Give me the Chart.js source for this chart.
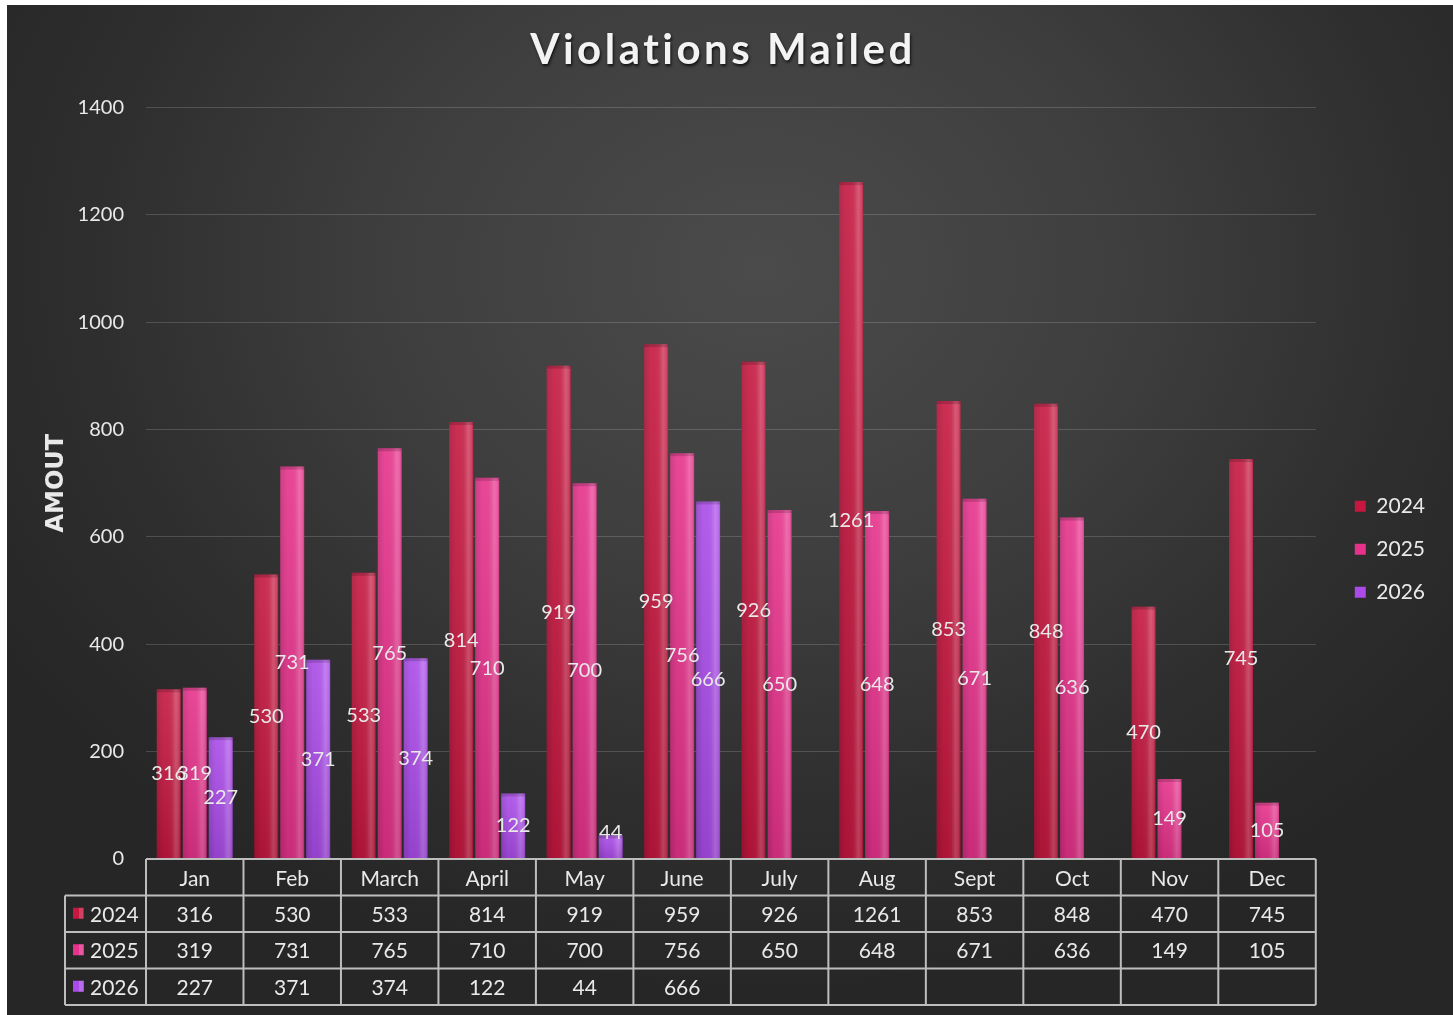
<!DOCTYPE html>
<html>
<head>
<meta charset="utf-8">
<title>Violations Mailed</title>
<script src="https://cdn.jsdelivr.net/npm/chart.js@4.4.1/dist/chart.umd.min.js"></script>
<style>
  html, body { margin: 0; padding: 0; background: #fff; }
  #wrap {
    position: absolute; left: 7px; top: 5px; width: 1446px; height: 1010px;
    background: radial-gradient(ellipse 62% 72% at 52% 26%, #4b4b4b 0%, #3e3e3e 42%, #2e2e2e 75%, #262626 100%);
  }
  canvas { display: block; }
</style>
</head>
<body>
<div id="wrap"><canvas id="chart" width="1446" height="1010"></canvas></div>
<script>
  // Données du graphique
  const months = ["Jan", "Feb", "March", "April", "May", "June", "July", "Aug", "Sept", "Oct", "Nov", "Dec"];
  const years = ["2024", "2025", "2026"];
  const values2024 = [316, 530, 533, 814, 919, 959, 926, 1261, 853, 848, 470, 745];
  const values2025 = [319, 731, 765, 710, 700, 756, 650, 648, 671, 636, 149, 105];
  const values2026 = [227, 371, 374, 122, 44, 666, null, null, null, null, null, null];
  const yTicks = [0, 200, 400, 600, 800, 1000, 1200, 1400];

  // Couleurs
  const barColors = ["#c5173f", "#e6328b", "#aa4be9"];
  const textColor = "#e9e9e9";
  const lineColor = "#bdbdbd";

  const seriesValues = [values2024, values2025, values2026];

  // Ombrage des barres (effet 3D léger) + étiquettes
  const barShade = {
    id: "barShade",
    afterDatasetsDraw(chart) {
      const ctx = chart.ctx;
      const area = chart.chartArea;
      ctx.save();
      chart.data.datasets.forEach((ds, di) => {
        const meta = chart.getDatasetMeta(di);
        meta.data.forEach((bar, i) => {
          const v = ds.data[i];
          if (v === null || v === undefined) return;
          const { x, y, base, width } = bar.getProps(["x", "y", "base", "width"], true);
          const left = x - width / 2;
          const h = ctx.createLinearGradient(left, 0, left + width, 0);
          h.addColorStop(0, "rgba(0,0,0,0.14)");
          h.addColorStop(0.3, "rgba(0,0,0,0)");
          h.addColorStop(0.62, "rgba(255,255,255,0.04)");
          h.addColorStop(0.8, "rgba(255,255,255,0.22)");
          h.addColorStop(0.93, "rgba(255,255,255,0.12)");
          h.addColorStop(1, "rgba(0,0,0,0.06)");
          ctx.fillStyle = h;
          ctx.fillRect(left, y, width, base - y);
          const g = ctx.createLinearGradient(0, y, 0, base);
          g.addColorStop(0, "rgba(255,255,255,0.10)");
          g.addColorStop(1, "rgba(0,0,0,0.12)");
          ctx.fillStyle = g;
          ctx.fillRect(left, y, width, base - y);
          ctx.fillStyle = "rgba(0,0,0,0.16)";
          ctx.fillRect(left, y, width, 3);
        });
      });

      // étiquettes de valeurs au centre des barres
      ctx.font = "20px Lato";
      ctx.fillStyle = textColor;
      ctx.textAlign = "center";
      ctx.textBaseline = "middle";
      chart.data.datasets.forEach((ds, di) => {
        const meta = chart.getDatasetMeta(di);
        meta.data.forEach((bar, i) => {
          const v = ds.data[i];
          if (v === null || v === undefined) return;
          const { x, y, base } = bar.getProps(["x", "y", "base"], true);
          const ly = Math.min((y + base) / 2, area.bottom - 26);
          ctx.fillText(String(v), x, ly);
        });
      });
      ctx.restore();
    }
  };

  // Tableau de données sous le graphique
  const dataTable = {
    id: "dataTable",
    afterDraw(chart) {
      const { ctx, chartArea } = chart;
      const xs = chart.scales.x;
      const rowH = 36.5;
      const top = chartArea.bottom;
      const labelLeft = 58;
      const colW = (chartArea.right - chartArea.left) / months.length;

      ctx.save();
      ctx.strokeStyle = lineColor;
      ctx.lineWidth = 2;
      ctx.beginPath();
      ctx.moveTo(chartArea.left, top);
      ctx.lineTo(chartArea.right, top);
      for (let r = 1; r <= 4; r++) {
        ctx.moveTo(labelLeft, top + r * rowH);
        ctx.lineTo(chartArea.right, top + r * rowH);
      }
      for (let k = 0; k <= months.length; k++) {
        const lx = chartArea.left + k * colW;
        ctx.moveTo(lx, top);
        ctx.lineTo(lx, top + 4 * rowH);
      }
      ctx.moveTo(labelLeft, top + rowH);
      ctx.lineTo(labelLeft, top + 4 * rowH);
      ctx.stroke();

      ctx.font = "21px Lato";
      ctx.textBaseline = "middle";
      seriesValues.forEach((vals, r) => {
        const cy = top + (r + 1.5) * rowH;
        // clé de légende + année
        ctx.fillStyle = barColors[r];
        ctx.fillRect(66, cy - 6, 11, 11);
        ctx.fillStyle = "rgba(255,255,255,0.18)";
        ctx.fillRect(72, cy - 6, 4, 11);
        ctx.fillStyle = textColor;
        ctx.textAlign = "left";
        ctx.fillText(years[r], 83, cy + 1);
        ctx.textAlign = "center";
        vals.forEach((v, i) => {
          if (v === null) return;
          ctx.fillText(String(v), xs.getPixelForValue(i), cy + 1);
        });
      });
      ctx.restore();
    }
  };

  // Titre avec espacement des lettres et ombre
  const titleStyle = {
    id: "titleStyle",
    afterInit(chart) {
      const tb = chart.titleBlock;
      if (!tb) return;
      const orig = tb.draw.bind(tb);
      tb.draw = function () {
        const c = chart.ctx;
        c.save();
        c.letterSpacing = "3.5px";
        c.shadowColor = "rgba(0,0,0,0.75)";
        c.shadowOffsetX = 1;
        c.shadowOffsetY = 2;
        c.shadowBlur = 3;
        c.translate(2, 0);
        orig();
        c.restore();
      };
    }
  };

  const ctx = document.getElementById("chart").getContext("2d");
  const chart = new Chart(ctx, {
    type: "bar",
    data: {
      labels: months,
      datasets: years.map((yr, i) => ({
        label: yr,
        data: seriesValues[i],
        backgroundColor: barColors[i],
        categoryPercentage: 0.8,
        barPercentage: 0.92
      }))
    },
    options: {
      responsive: false,
      animation: false,
      layout: { padding: { right: 18 } },
      scales: {
        x: {
          grid: { display: false, drawTicks: false },
          border: { display: false },
          ticks: { color: textColor, font: { family: "Lato", size: 21 }, padding: 8, maxRotation: 0, autoSkip: false },
          afterFit: (s) => { s.height = 156; }
        },
        y: {
          min: 0,
          max: 1400,
          afterBuildTicks: (s) => { s.ticks = yTicks.map(v => ({ value: v })); },
          ticks: { color: textColor, font: { family: "Lato", size: 20 }, padding: 22, callback: (v) => String(v) },
          grid: { color: "rgba(255,255,255,0.16)", lineWidth: 1, drawTicks: false },
          border: { display: false },
          title: {
            display: true, text: "AMOUT", color: textColor,
            font: { family: "DejaVu Sans", weight: "bold", size: 24 },
            padding: { top: 35, bottom: 0 }
          },
          afterFit: (s) => { s.width = 139; }
        },
        yRight: {
          position: "right",
          display: true,
          grid: { display: false, drawTicks: false },
          border: { display: false },
          ticks: { display: false },
          afterFit: (s) => { s.width = 17; }
        }
      },
      plugins: {
        title: {
          display: true,
          text: "Violations Mailed",
          color: "#f3f3f3",
          font: { family: "Lato", weight: "bold", size: 42 },
          padding: { top: 20, bottom: 32 }
        },
        legend: {
          position: "right",
          title: { display: true, text: "", padding: { top: 32, bottom: 32 } },
          labels: {
            color: textColor,
            font: { family: "Lato", size: 21 },
            boxWidth: 11,
            boxHeight: 11,
            padding: 22,
            generateLabels: (c) => Chart.defaults.plugins.legend.labels.generateLabels(c).map((it, i) => {
              it.fillStyle = barColors[i];
              it.strokeStyle = barColors[i];
              it.lineWidth = 0;
              return it;
            })
          }
        },
        tooltip: { enabled: false }
      }
    },
    plugins: [barShade, dataTable, titleStyle]
  });
</script>
</body>
</html>
